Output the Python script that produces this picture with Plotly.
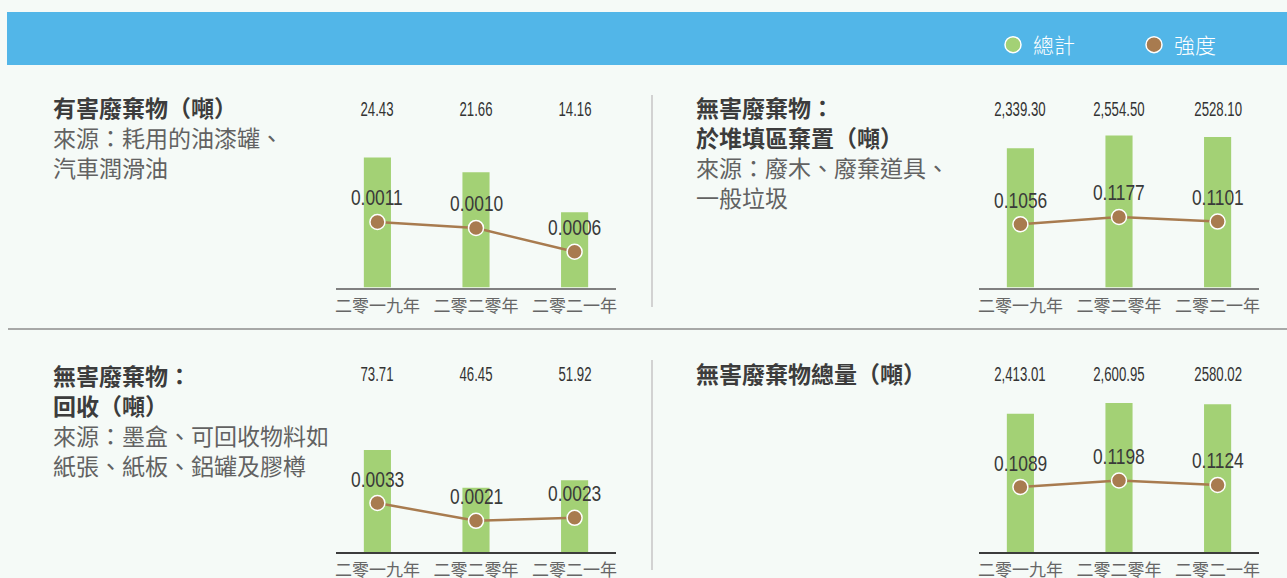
import plotly.graph_objects as go

W, H = 1287, 578

# ---------------- data ----------------
years = ["二零一九年", "二零二零年", "二零二一年"]

haz_total = [24.43, 21.66, 14.16]
haz_total_labels = ["24.43", "21.66", "14.16"]
haz_intensity = [0.0011, 0.0010, 0.0006]

landfill_total = [2339.30, 2554.50, 2528.10]
landfill_total_labels = ["2,339.30", "2,554.50", "2528.10"]
landfill_intensity = [0.1056, 0.1177, 0.1101]

recycle_total = [73.71, 46.45, 51.92]
recycle_total_labels = ["73.71", "46.45", "51.92"]
recycle_intensity = [0.0033, 0.0021, 0.0023]

nonhaz_total = [2413.01, 2600.95, 2580.02]
nonhaz_total_labels = ["2,413.01", "2,600.95", "2580.02"]
nonhaz_intensity = [0.1089, 0.1198, 0.1124]

legend_names = ["總計", "強度"]

# ---------------- style ----------------
CJK = "Noto Sans CJK TC, Noto Sans CJK SC, sans-serif"
NUM = "Liberation Sans, Arial, sans-serif"
GREEN = "#a3d175"
BROWN = "#a87b4f"
BG = "#f5faf7"
HEADER = "#52b6e8"


def fx(px):
    return px / W


def fy(py):
    return 1 - py / H


panels = [
    dict(total=haz_total, labels=haz_total_labels, inten=haz_intensity,
         x0=336, x1=616, base=287.5, bar_px=130, line_px=65.5, top_y=109, axis="#808080",
         text=[("有害廢棄物（噸）", True),
               ("來源：耗用的油漆罐、", False),
               ("汽車潤滑油", False)], tx=52, ty=107),
    dict(total=landfill_total, labels=landfill_total_labels, inten=landfill_intensity,
         x0=979, x1=1259, base=287.5, bar_px=152, line_px=70.5, top_y=109, axis="#808080",
         text=[("無害廢棄物：", True),
               ("於堆填區棄置（噸）", True),
               ("來源：廢木、廢棄道具、", False),
               ("一般垃圾", False)], tx=695, ty=107),
    dict(total=recycle_total, labels=recycle_total_labels, inten=recycle_intensity,
         x0=336, x1=616, base=552, bar_px=102, line_px=49, top_y=374, axis="#3c3c3c",
         text=[("無害廢棄物：", True),
               ("回收（噸）", True),
               ("來源：墨盒、可回收物料如", False),
               ("紙張、紙板、鋁罐及膠樽", False)], tx=52, ty=375),
    dict(total=nonhaz_total, labels=nonhaz_total_labels, inten=nonhaz_intensity,
         x0=979, x1=1259, base=552, bar_px=149, line_px=71.5, top_y=374, axis="#3c3c3c",
         text=[("無害廢棄物總量（噸）", True)], tx=695, ty=373),
]

DOM_H = 200
TXT_SIZE = 23
LINE_H = 30

fig = go.Figure()
layout = {}
annotations = []

for i, p in enumerate(panels, start=1):
    xs = "" if i == 1 else str(i)
    yb = 2 * i - 1
    yl = 2 * i
    ybs = "" if yb == 1 else str(yb)
    xname = "x" + xs
    ybname = "y" + ybs
    ylname = "y" + str(yl)

    dom = [fy(p["base"]), fy(p["base"] - DOM_H)]
    layout["xaxis" + xs] = dict(
        domain=[fx(p["x0"]), fx(p["x1"])], anchor=ybname, type="category",
        range=[-0.42, 2.42], showline=True, linecolor=p["axis"], linewidth=2,
        ticks="", showgrid=False, zeroline=False, fixedrange=True, automargin=False,
        tickfont=dict(family=CJK, size=17, color="#666666"),
        ticklabelstandoff=2,
    )
    layout["yaxis" + ybs] = dict(
        domain=dom, anchor=xname, visible=False, fixedrange=True, automargin=False,
        range=[0, max(p["total"]) * DOM_H / p["bar_px"]],
    )
    layout["yaxis" + str(yl)] = dict(
        overlaying=ybname, anchor=xname, visible=False, fixedrange=True, automargin=False,
        range=[0, max(p["inten"]) * DOM_H / p["line_px"]],
    )

    fig.add_trace(go.Bar(
        x=years, y=p["total"], xaxis=xname, yaxis=ybname, width=0.275,
        marker=dict(color=GREEN, line=dict(width=0)), showlegend=False,
        hoverinfo="skip",
    ))
    fig.add_trace(go.Scatter(
        x=years, y=p["inten"], xaxis=xname, yaxis=ylname, mode="lines+markers",
        line=dict(color=BROWN, width=2.5),
        marker=dict(size=15, color=BROWN, line=dict(color="white", width=1.5)),
        showlegend=False, hoverinfo="skip",
    ))

    for cat, lab in zip(years, p["labels"]):
        annotations.append(dict(
            x=cat, y=fy(p["top_y"]), xref=xname, yref="paper", text=lab,
            showarrow=False, xanchor="center", yanchor="middle",
            font=dict(family=NUM, size=20, color="#333333"),
        ))
    for cat, v in zip(years, p["inten"]):
        annotations.append(dict(
            x=cat, y=v, xref=xname, yref=ylname, text=f"{v:.4f}",
            showarrow=False, xanchor="center", yanchor="middle", yshift=24,
            font=dict(family=NUM, size=22, color="#3a3a3a"),
        ))
    for k, (txt, bold) in enumerate(p["text"]):
        annotations.append(dict(
            x=fx(p["tx"]), y=fy(p["ty"] + k * LINE_H), xref="paper", yref="paper",
            text=f"<b>{txt}</b>" if bold else txt,
            showarrow=False, xanchor="left", yanchor="middle", borderpad=0,
            font=dict(family=CJK, size=TXT_SIZE, color="#3c3c3c" if bold else "#626262"),
        ))

# legend dummy traces
for name, col in zip(legend_names, [GREEN, BROWN]):
    fig.add_trace(go.Scatter(
        x=[None], y=[None], mode="markers", name=name,
        marker=dict(size=16, color=col, line=dict(color="white", width=1.5)),
        showlegend=True, hoverinfo="skip",
    ))

shapes = [
    dict(type="rect", xref="paper", yref="paper", x0=fx(7), x1=1, y0=fy(65), y1=fy(12),
         fillcolor=HEADER, line=dict(width=0), layer="below"),
    dict(type="line", xref="paper", yref="paper", x0=fx(8), x1=1, y0=fy(329), y1=fy(329),
         line=dict(color="#8c8c8c", width=1.5)),
    dict(type="line", xref="paper", yref="paper", x0=fx(652), x1=fx(652), y0=fy(95), y1=fy(307),
         line=dict(color="#d2d2d2", width=2)),
    dict(type="line", xref="paper", yref="paper", x0=fx(652), x1=fx(652), y0=fy(360), y1=fy(570),
         line=dict(color="#d2d2d2", width=2)),
]

fig.update_layout(
    width=W, height=H, margin=dict(l=0, r=0, t=0, b=0, pad=0, autoexpand=False),
    paper_bgcolor=BG, plot_bgcolor="rgba(0,0,0,0)",
    barmode="overlay",
    annotations=annotations, shapes=shapes,
    legend=dict(orientation="h", x=fx(993), xanchor="left", y=fy(45), yanchor="middle",
                bgcolor="rgba(0,0,0,0)",
                font=dict(family=CJK, size=21, color="white", weight=300),
                entrywidth=96, entrywidthmode="pixels", itemsizing="trace"),
    **layout,
)

# remove default page margin; render numeric labels in a condensed width
post = """
document.body.style.margin = '0';
var gd = document.getElementById('{plot_id}');
function squeeze() {
  gd.querySelectorAll('text.annotation-text').forEach(function (el) {
    if ((el.style.fontFamily || '').indexOf('Liberation') < 0) return;
    var fs = el.style.fontSize;
    var r = fs === '20px' ? 0.66 : 0.79;
    var b = el.getBBox();
    var cx = b.x + b.width / 2;
    el.setAttribute('transform',
      'translate(' + cx + ',0) scale(' + r + ',1) translate(' + (-cx) + ',0)');
  });
}
squeeze();
gd.on('plotly_afterplot', squeeze);
"""

fig.write_html("out.html", post_script=post, config={"displayModeBar": False})
